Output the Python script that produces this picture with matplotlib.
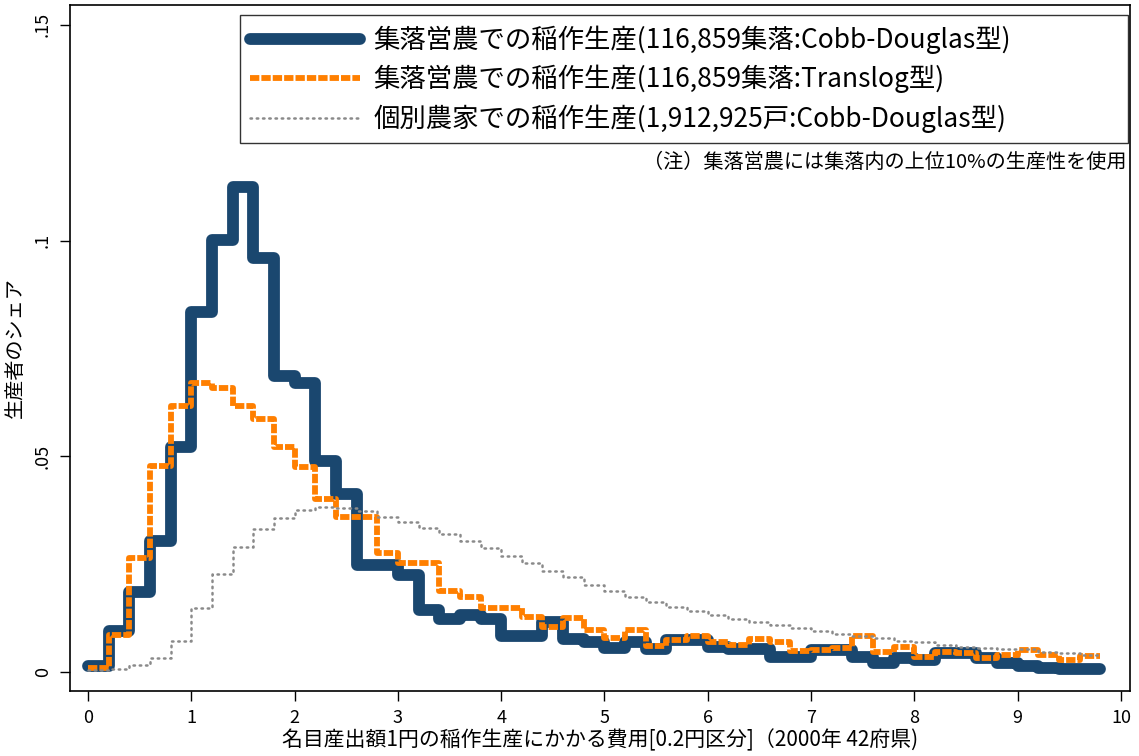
import numpy as np
import matplotlib
matplotlib.use("Agg")
import matplotlib.pyplot as plt

plt.rcParams['font.family'] = ['Noto Sans CJK JP', 'DejaVu Sans']

# bin start of each 0.2-yen cost class
bins = np.round(np.arange(0, 10.0, 0.2), 1)

# share of producers, settlement farming, Cobb-Douglas
share_cd = [0.0015, 0.0095, 0.0186, 0.0304, 0.0522, 0.0835, 0.1002, 0.1125, 0.0960, 0.0687,
            0.0670, 0.0488, 0.0412, 0.0248, 0.0248, 0.0225, 0.0144, 0.0123, 0.0132, 0.0123,
            0.0083, 0.0083, 0.0116, 0.0076, 0.0069, 0.0056, 0.0070, 0.0053, 0.0074, 0.0074,
            0.0058, 0.0053, 0.0053, 0.0035, 0.0035, 0.0051, 0.0051, 0.0035, 0.0021, 0.0032,
            0.0028, 0.0044, 0.0044, 0.0032, 0.0021, 0.0014, 0.0009, 0.0007, 0.0007, 0.0007]

# settlement farming, Translog
share_tl = [0.0010, 0.0086, 0.0264, 0.0478, 0.0617, 0.0670, 0.0659, 0.0617, 0.0587, 0.0522,
            0.0476, 0.0400, 0.0360, 0.0360, 0.0276, 0.0253, 0.0253, 0.0188, 0.0174, 0.0148,
            0.0148, 0.0128, 0.0104, 0.0125, 0.0097, 0.0079, 0.0097, 0.0060, 0.0074, 0.0083,
            0.0070, 0.0063, 0.0077, 0.0070, 0.0049, 0.0051, 0.0056, 0.0083, 0.0047, 0.0058,
            0.0035, 0.0046, 0.0044, 0.0032, 0.0040, 0.0051, 0.0040, 0.0028, 0.0037, 0.0037]

# individual farm households, Cobb-Douglas
share_ind = [0.0005, 0.0007, 0.0016, 0.0032, 0.0072, 0.0148, 0.0227, 0.0290, 0.0332, 0.0358,
             0.0376, 0.0383, 0.0380, 0.0374, 0.0360, 0.0348, 0.0334, 0.0320, 0.0304, 0.0288,
             0.0269, 0.0253, 0.0234, 0.0220, 0.0202, 0.0188, 0.0174, 0.0162, 0.0151, 0.0142,
             0.0132, 0.0123, 0.0116, 0.0109, 0.0102, 0.0095, 0.0088, 0.0083, 0.0079, 0.0072,
             0.0070, 0.0063, 0.0058, 0.0056, 0.0053, 0.0053, 0.0047, 0.0044, 0.0040, 0.0040]

labels = ['集落営農での稲作生産(116,859集落:Cobb-Douglas型)',
          '集落営農での稲作生産(116,859集落:Translog型)',
          '個別農家での稲作生産(1,912,925戸:Cobb-Douglas型)']

xticks = list(range(0, 11))
yticks = [0, 0.05, 0.1, 0.15]
yticklabels = ['0', '.05', '.1', '.15']

fig = plt.figure(figsize=(11.39, 7.56), dpi=100)
ax = fig.add_axes([0.0615, 0.086, 0.9305, 0.9074])

ax.plot(bins, share_cd, drawstyle='steps-post', color='#1a476f', lw=8.5,
        solid_joinstyle='round', solid_capstyle='round', label=labels[0])
ax.plot(bins, share_tl, drawstyle='steps-post', color='#ff7f00', lw=4.2,
        linestyle=(0, (1.6, 0.35)), dash_capstyle='butt', dash_joinstyle='round',
        label=labels[1])
ax.plot(bins, share_ind, drawstyle='steps-post', color='#8a8a8a', lw=1.8,
        linestyle=(0, (0.6, 1.9)), dash_capstyle='round', label=labels[2])

ax.set_xlim(-0.174, 10.087)
ax.set_ylim(-0.0044, 0.1546)
ax.set_xticks(xticks)
ax.set_yticks(yticks)
ax.set_yticklabels(yticklabels, rotation=90, va='center')
ax.tick_params(axis='both', direction='out', length=7, width=1, labelsize=13, pad=6)
for s in ax.spines.values():
    s.set_linewidth(1.2)

ax.set_xlabel('名目産出額1円の稲作生産にかかる費用[0.2円区分]（2000年 42府県)',
              fontsize=15, labelpad=1)
ax.set_ylabel('生産者のシェア', fontsize=14.5, labelpad=6)

leg = ax.legend(loc='upper left', bbox_to_anchor=(0.160, 0.803, 0.838, 0.182),
                mode='expand', borderaxespad=0,
                fontsize=19, handlelength=4.2, handletextpad=0.5, labelspacing=0.42,
                frameon=True, fancybox=False, edgecolor='black', borderpad=0.38)
leg.get_frame().set_linewidth(1.0)

ax.text(0.997, 0.771, '（注）集落営農には集落内の上位10%の生産性を使用', transform=ax.transAxes,
        ha='right', va='center', fontsize=14.5)

fig.savefig('out.png', dpi=100)
